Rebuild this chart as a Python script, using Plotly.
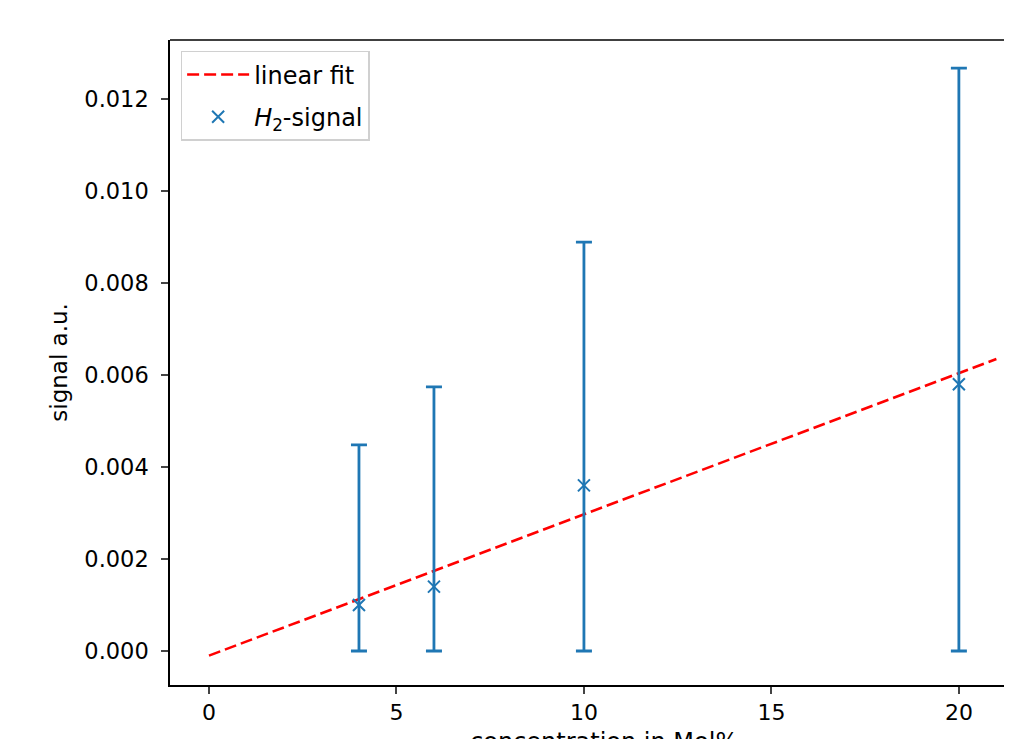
import plotly.graph_objects as go

# data
conc = [4, 6, 10, 20]
signal = [0.0010, 0.0014, 0.0036, 0.0058]
err_plus = [0.00348, 0.00434, 0.00529, 0.00687]
err_minus = [0.0010, 0.0014, 0.0036, 0.0058]
fit_x = [0, 21]
fit_slope = 0.000307
fit_intercept = -0.0001
fit_y = [fit_slope * v + fit_intercept for v in fit_x]

x_ticks = [0, 5, 10, 15, 20]
y_ticks = [0.000, 0.002, 0.004, 0.006, 0.008, 0.010, 0.012]

blue = "#1f77b4"
font = "DejaVu Sans, Liberation Sans, sans-serif"

fig = go.Figure()
fig.add_trace(go.Scatter(
    x=fit_x, y=fit_y, mode="lines", name="linear fit", legendgroup="fit",
    line=dict(color="red", width=2.6, dash="12px,5px"),
))
fig.add_trace(go.Scatter(
    x=conc, y=signal, mode="markers", name="<i>H</i><sub>2</sub>-signal",
    legendgroup="sig",
    marker=dict(symbol="x-thin", size=12, color=blue, line=dict(color=blue, width=2)),
    error_y=dict(type="data", symmetric=False, array=err_plus, arrayminus=err_minus,
                 color=blue, thickness=2.8, width=8),
))

fig.update_layout(
    width=1012, height=731,
    margin=dict(l=162, r=0, t=32, b=54),
    paper_bgcolor="white", plot_bgcolor="white",
    font=dict(family=font, size=22, color="black"),
    showlegend=True,
    legend=dict(x=0.0125, y=0.983, xanchor="left", yanchor="top",
                bgcolor="white", bordercolor="#d0d0d0", borderwidth=1.5,
                font=dict(size=24), tracegroupgap=8, itemwidth=62),
    xaxis=dict(range=[-1.04, 21.63], tickvals=x_ticks, ticks="outside", ticklen=7,
               tickwidth=1.5, showline=True, linecolor="black", linewidth=1.5,
               showgrid=False, zeroline=False, tickfont=dict(size=22)),
    yaxis=dict(range=[-0.000739, 0.013283], tickvals=y_ticks, tickformat=".3f",
               ticks="outside", ticklen=7, tickwidth=1.5, showline=True,
               linecolor="black", linewidth=1.5, showgrid=False, zeroline=False,
               tickfont=dict(size=22.5), ticklabelstandoff=8),
    shapes=[dict(type="line", xref="paper", yref="paper", x0=0, x1=1, y0=1, y1=1,
                 line=dict(color="black", width=1.5))],
    annotations=[
        dict(text="signal a.u.", xref="paper", yref="paper", x=-0.1315, y=0.5,
             textangle=-90, showarrow=False, font=dict(size=23),
             xanchor="center", yanchor="middle"),
        dict(text="concentration in Mol%", xref="paper", yref="paper", x=0.51, y=-0.064,
             showarrow=False, font=dict(size=24), xanchor="center", yanchor="top"),
    ],
)

fig.write_html("out.html")
